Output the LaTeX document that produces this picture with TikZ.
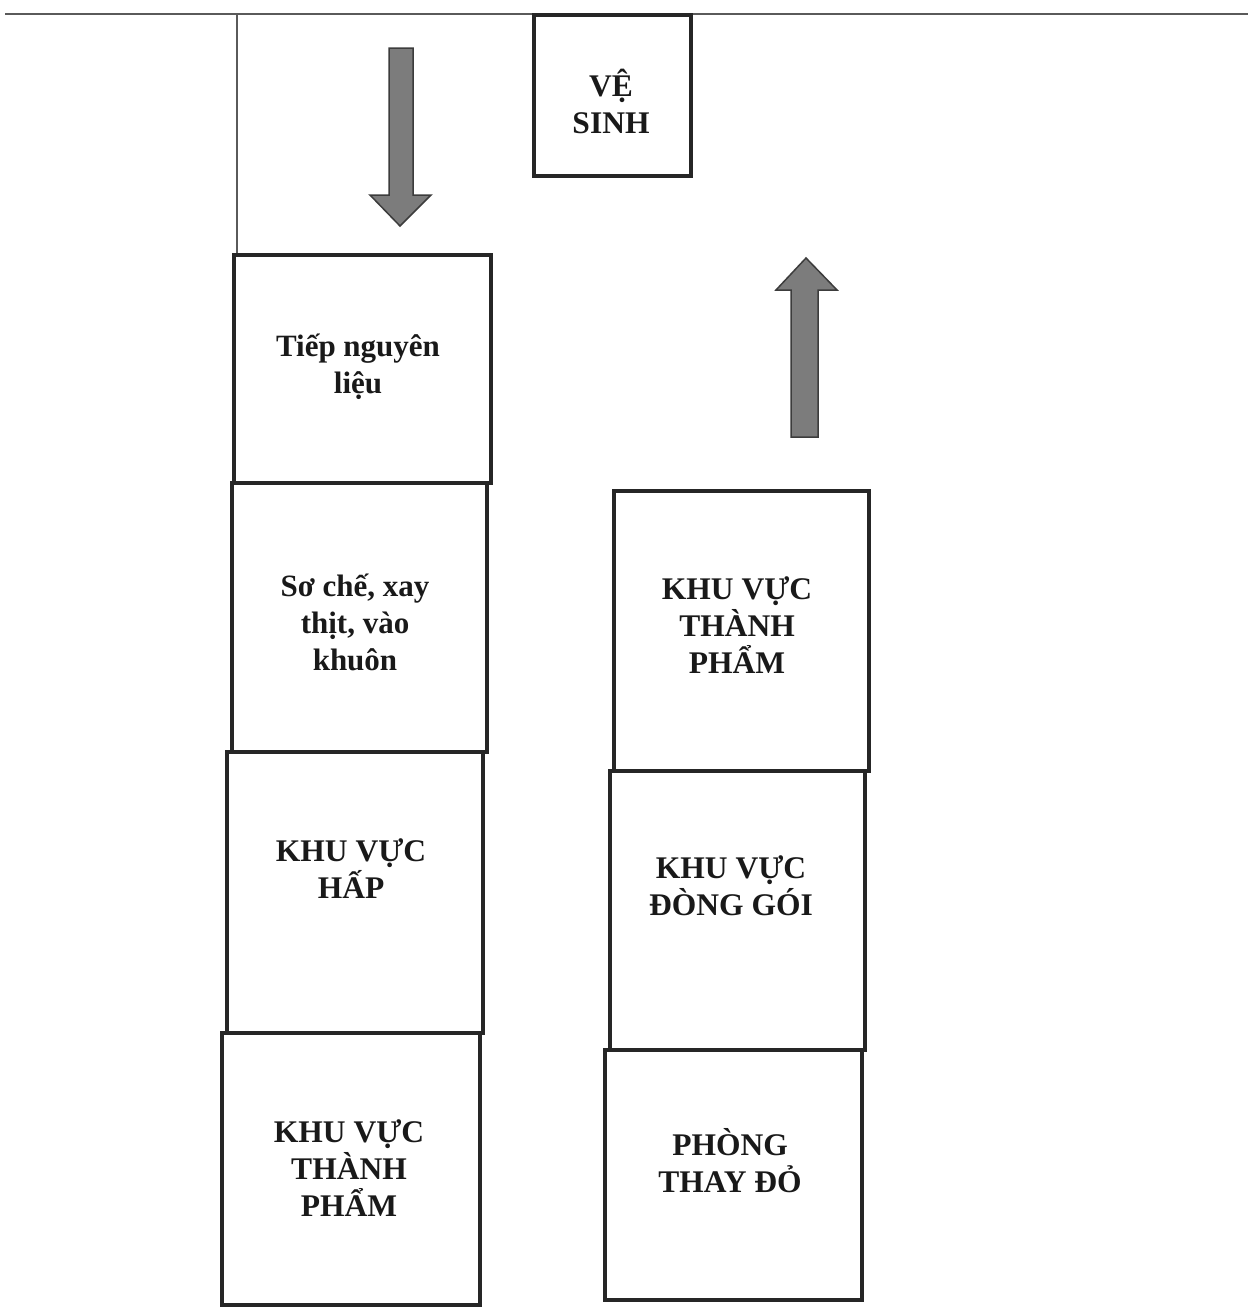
\documentclass[tikz,border=0pt]{standalone}
\usepackage{fontspec}
\setmainfont{Liberation Serif}
\definecolor{boxline}{HTML}{262626}
\definecolor{wallline}{HTML}{5A5A5A}
\definecolor{arrowfill}{HTML}{7C7C7C}
\definecolor{arrowedge}{HTML}{3C3C3C}
\tikzset{
  room/.style={draw=boxline, line width=3.5pt, rectangle, inner sep=0pt},
  lowtext/.style={align=center, font=\fontsize{31}{37}\selectfont\bfseries, text=black!90, inner sep=0pt},
  captext/.style={align=center, font=\fontsize{31.5}{37}\selectfont\bfseries, text=black!90, inner sep=0pt},
  flowarrow/.style={fill=arrowfill, draw=arrowedge, line width=1.5pt, line join=miter},
  wall/.style={draw=wallline}
}
\begin{document}
\begin{tikzpicture}[x=1pt, y=-1pt]
\useasboundingbox (0,0) rectangle (1248,1307);
\fill[white] (0,0) rectangle (1248,1307);

% outer walls
\coordinate (wallL) at (5,14);
\coordinate (wallR) at (1248,14);
\coordinate (cornerTop) at (237,14);
\draw[wall, line width=2pt] (wallL) -- (wallR);

% toilet
\node[room, minimum width=157pt, minimum height=161pt] (vesinh) at (612.5,95.5) {};
\node[captext] (vesinhT) at (611,101) {VỆ\\SINH};

% left column of rooms
\node[room, minimum width=257pt, minimum height=228pt] (tiep) at (362.5,369) {};
\node[lowtext] (tiepT) at (358,367) {Tiếp nguyên\\liệu};
\node[room, minimum width=255pt, minimum height=269pt] (soche) at (359.5,617.5) {};
\node[lowtext] (socheT) at (355,622) {Sơ chế, xay\\thịt, vào\\khuôn};
\node[room, minimum width=256pt, minimum height=281pt] (hap) at (355,892.5) {};
\node[captext] (hapT) at (351,869) {KHU VỰC\\HẤP};
\node[room, minimum width=258pt, minimum height=272pt] (tpL) at (351,1169) {};
\node[captext] (tpLT) at (349,1168) {KHU VỰC\\THÀNH\\PHẨM};

% right column of rooms
\node[room, minimum width=255pt, minimum height=280pt] (tpR) at (741.5,631) {};
\node[captext] (tpRT) at (737,625) {KHU VỰC\\THÀNH\\PHẨM};
\node[room, minimum width=255pt, minimum height=279pt] (donggoi) at (737.5,910.5) {};
\node[captext] (donggoiT) at (731,886) {KHU VỰC\\ĐÒNG GÓI};
\node[room, minimum width=257pt, minimum height=250pt] (thaydo) at (733.5,1175) {};
\node[captext] (thaydoT) at (730,1161) {PHÒNG\\THAY ĐỎ};

% left wall down to the first room
\draw[wall, line width=1.5pt] (cornerTop) -- (tiep.north west -| cornerTop);

% flow arrows
\draw[flowarrow] (389,48) -- (413,48) -- (413,195) -- (431,195) -- (400,226)
  -- (370,195) -- (389,195) -- cycle;
\draw[flowarrow] (791,437) -- (818,437) -- (818,290) -- (837,290) -- (806,258)
  -- (776,290) -- (791,290) -- cycle;
\end{tikzpicture}
\end{document}
